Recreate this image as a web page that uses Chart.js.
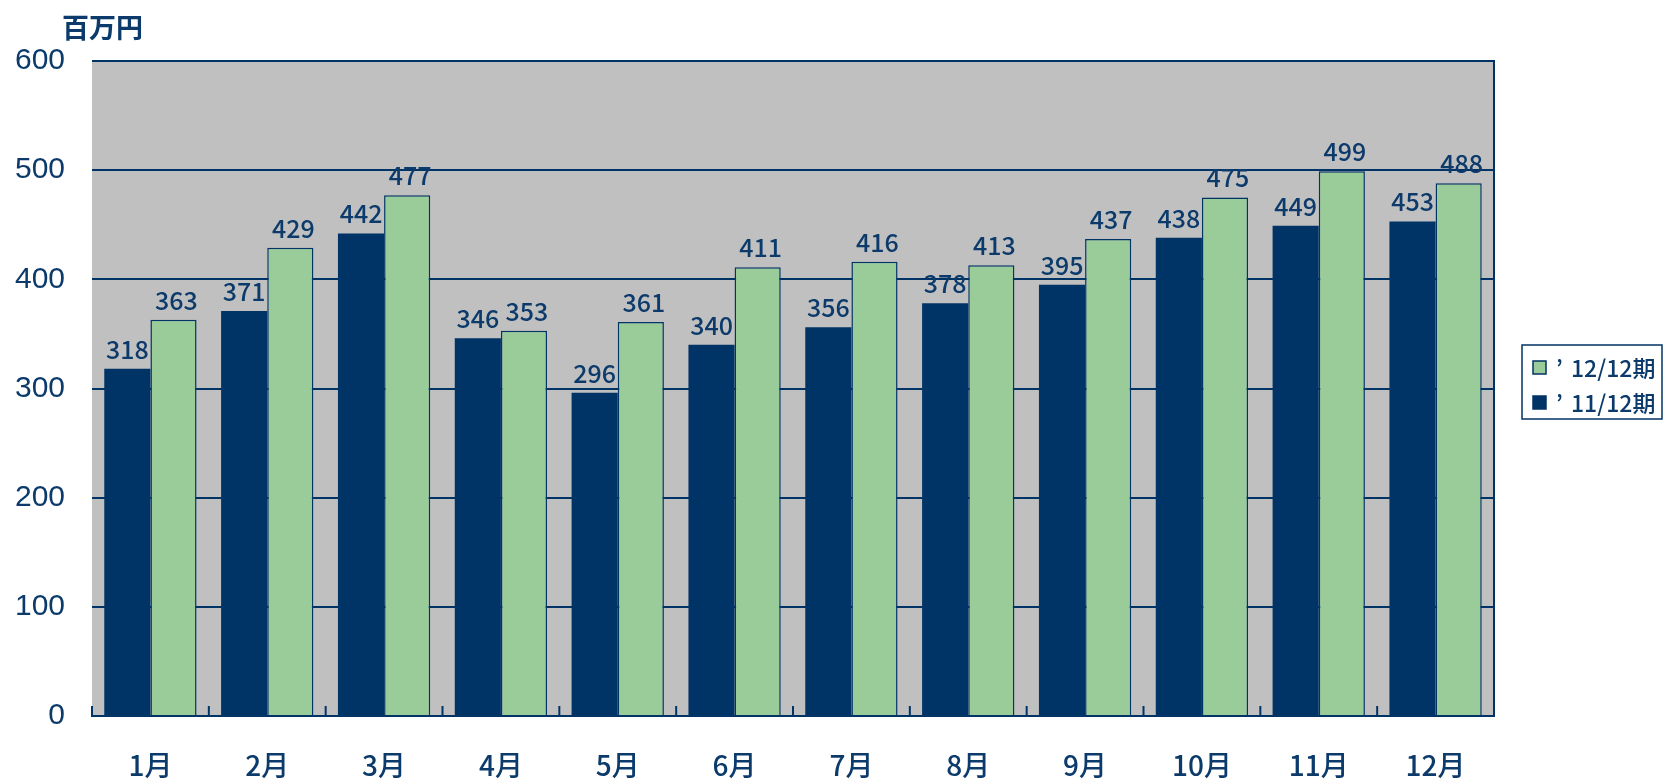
<!DOCTYPE html>
<html><head><meta charset="utf-8">
<script src="https://cdn.jsdelivr.net/npm/chart.js@4/dist/chart.umd.min.js"></script>
<style>html,body{margin:0;padding:0;background:#fff}#wrap{width:1668px;height:782px}</style>
</head><body><div id="wrap"><canvas id="c" width="1668" height="782"></canvas></div>
<script>
const categories = ['1月','2月','3月','4月','5月','6月','7月','8月','9月','10月','11月','12月'];
const series2011Label = '’11/12期';
const series2011 = [318, 371, 442, 346, 296, 340, 356, 378, 395, 438, 449, 453];
const series2012Label = '’12/12期';
const series2012 = [363, 429, 477, 353, 361, 411, 416, 413, 437, 475, 499, 488];
const yMin = 0, yMax = 600, yStep = 100;
const unitLabel = '百万円';

const NAVY = '#003366';
const TEXT = '#0b3a6b';
const GREEN = '#99CC99';
const GRAY = '#C0C0C0';
const CJK = '"Noto Sans CJK JP", "Noto Sans", sans-serif';

const decor = {
  id: 'decor',
  beforeDraw(chart) {
    const {ctx, chartArea: a} = chart;
    ctx.save();
    ctx.fillStyle = GRAY;
    ctx.fillRect(a.left, a.top, a.right - a.left, a.bottom - a.top);
    ctx.restore();
  },
  afterDatasetsDraw(chart) {
    const {ctx, chartArea: a} = chart;
    const xs = chart.scales.x;
    ctx.save();
    ctx.strokeStyle = NAVY;
    ctx.lineWidth = 2;
    ctx.beginPath();
    ctx.moveTo(a.right, a.top - 1);
    ctx.lineTo(a.right, a.bottom + 1);
    ctx.stroke();
    const cw = (a.right - a.left) / categories.length;
    for (let i = 0; i <= categories.length; i++) {
      const x = i < categories.length ? xs.getPixelForValue(i) - cw / 2 : xs.getPixelForValue(i - 1) + cw / 2;
      ctx.beginPath();
      ctx.moveTo(x, a.bottom);
      ctx.lineTo(x, a.bottom - 10);
      ctx.stroke();
    }
    ctx.fillStyle = TEXT;
    ctx.font = '500 25px ' + CJK;
    ctx.textAlign = 'center';
    ctx.textBaseline = 'alphabetic';
    chart.data.datasets.forEach((ds, di) => {
      const meta = chart.getDatasetMeta(di);
      meta.data.forEach((el, i) => {
        ctx.fillText(String(ds.data[i]), el.x + (di === 1 ? 3 : 0), el.y - 10);
      });
    });
    ctx.font = 'bold 27px ' + CJK;
    ctx.textAlign = 'left';
    ctx.textBaseline = 'middle';
    ctx.fillText(unitLabel, 62, 28);
    // legend
    const lx = 1522, ly = 345, lw = 140, lh = 74;
    ctx.lineWidth = 1.5;
    ctx.strokeStyle = NAVY;
    ctx.strokeRect(lx, ly, lw, lh);
    const items = [
      {label: series2012Label, fill: GREEN, y: 367},
      {label: series2011Label, fill: NAVY, y: 402}
    ];
    ctx.font = '500 23px ' + CJK;
    items.forEach(it => {
      ctx.fillStyle = it.fill;
      ctx.fillRect(1533, it.y - 6, 13, 13);
      ctx.strokeStyle = NAVY;
      ctx.lineWidth = 1.5;
      ctx.strokeRect(1533, it.y - 6, 13, 13);
      ctx.fillStyle = TEXT;
      ctx.textBaseline = 'middle';
      ctx.fillText(it.label.charAt(0), 1556, it.y + 1);
      ctx.fillText(it.label.slice(1), 1571, it.y + 1);
    });
    ctx.restore();
  }
};

new Chart(document.getElementById('c'), {
  type: 'bar',
  data: {
    labels: categories,
    datasets: [
      {label: series2011Label, data: series2011, backgroundColor: NAVY, borderColor: NAVY, borderWidth: 0},
      {label: series2012Label, data: series2012, backgroundColor: GREEN, borderColor: NAVY, borderWidth: 1.5, borderSkipped: 'bottom'}
    ]
  },
  options: {
    responsive: false,
    animation: false,
    layout: {padding: {left: 0, right: 174, top: 61, bottom: 0}},
    plugins: {legend: {display: false}, tooltip: {enabled: false}},
    datasets: {bar: {categoryPercentage: 0.79, barPercentage: 1.0}},
    scales: {
      x: {
        grid: {display: false, drawTicks: false},
        border: {display: true, color: NAVY, width: 2},
        ticks: {color: TEXT, font: {family: CJK, size: 28, weight: '500'}, padding: 33},
        afterFit(s) { s.height = 66; }
      },
      y: {
        min: yMin, max: yMax,
        grid: {color: NAVY, lineWidth: 2, drawTicks: false},
        border: {display: false},
        ticks: {stepSize: yStep, color: TEXT, font: {family: '"Liberation Sans", Arial, sans-serif', size: 30}, padding: 27},
        afterFit(s) { s.width = 92; }
      }
    }
  },
  plugins: [decor]
});
</script>
</body></html>
